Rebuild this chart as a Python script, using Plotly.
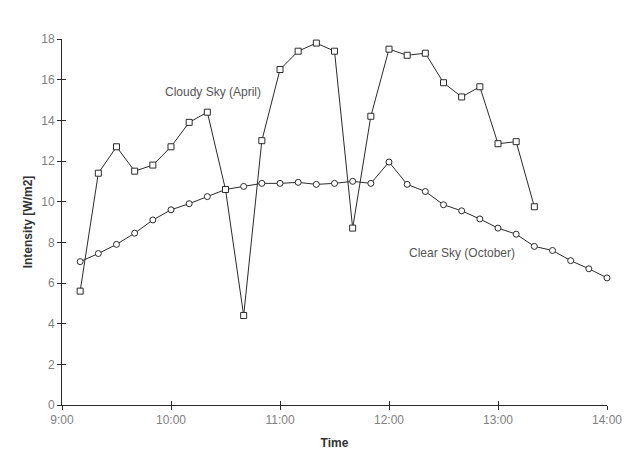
import plotly.graph_objects as go

# ---- data ----
cloudy_times = ["09:10", "09:20", "09:30", "09:40", "09:50", "10:00", "10:10", "10:20",
                "10:30", "10:40", "10:50", "11:00", "11:10", "11:20", "11:30", "11:40",
                "11:50", "12:00", "12:10", "12:20", "12:30", "12:40", "12:50", "13:00",
                "13:10", "13:20"]
cloudy_values = [5.6, 11.4, 12.7, 11.5, 11.8, 12.7, 13.9, 14.4,
                 10.6, 4.4, 13.0, 16.5, 17.4, 17.8, 17.4, 8.7,
                 14.2, 17.5, 17.2, 17.3, 15.85, 15.15, 15.65, 12.85,
                 12.95, 9.75]

clear_times = ["09:10", "09:20", "09:30", "09:40", "09:50", "10:00", "10:10", "10:20",
               "10:30", "10:40", "10:50", "11:00", "11:10", "11:20", "11:30", "11:40",
               "11:50", "12:00", "12:10", "12:20", "12:30", "12:40", "12:50", "13:00",
               "13:10", "13:20", "13:30", "13:40", "13:50", "14:00"]
clear_values = [7.05, 7.45, 7.9, 8.45, 9.1, 9.6, 9.9, 10.25,
                10.6, 10.75, 10.9, 10.9, 10.95, 10.85, 10.9, 11.0,
                10.9, 11.95, 10.85, 10.5, 9.85, 9.55, 9.15, 8.7,
                8.4, 7.8, 7.6, 7.1, 6.7, 6.25]

tick_labels = ["9:00", "10:00", "11:00", "12:00", "13:00", "14:00"]
tick_times = ["09:00", "10:00", "11:00", "12:00", "13:00", "14:00"]
y_ticks = [0, 2, 4, 6, 8, 10, 12, 14, 16, 18]

DAY = "2000-01-01 "
def to_dt(ts):
    return [DAY + t for t in ts]

LINE = "#2a2a2a"
TICKC = "#808080"

fig = go.Figure()
xr = [DAY + tick_times[0], DAY + tick_times[-1]]
# invisible trace on a twin subplot (it carries the inner half of the crossing ticks)
fig.add_trace(go.Scatter(x=xr, y=[y_ticks[0], y_ticks[-1]], xaxis="x2", yaxis="y2",
                         mode="markers", marker=dict(opacity=0), showlegend=False,
                         hoverinfo="skip"))
fig.add_trace(go.Scatter(
    x=to_dt(clear_times), y=clear_values, mode="lines+markers",
    line=dict(color=LINE, width=1),
    marker=dict(symbol="circle", size=6, color="white", line=dict(color=LINE, width=1)),
    showlegend=False, cliponaxis=False))
fig.add_trace(go.Scatter(
    x=to_dt(cloudy_times), y=cloudy_values, mode="lines+markers",
    line=dict(color=LINE, width=1),
    marker=dict(symbol="square", size=6, color="white", line=dict(color=LINE, width=1)),
    showlegend=False, cliponaxis=False))

# page body has an 8px margin, so the figure is 8px smaller than the window
fig.update_layout(
    width=623, height=452,
    margin=dict(l=54, r=24, t=31, b=55),
    paper_bgcolor="white", plot_bgcolor="rgba(0,0,0,0)",
    font=dict(family="Liberation Sans, Arial, sans-serif", size=12, color=TICKC),
    xaxis=dict(type="date", range=xr, tickmode="array", tickvals=to_dt(tick_times),
               ticktext=tick_labels, automargin=False,
               showgrid=False, zeroline=False, showline=True, linecolor=LINE, linewidth=1,
               ticks="outside", ticklen=4, tickcolor=LINE, tickwidth=1,
               tickfont=dict(size=12, color=TICKC),
               title=dict(text="<b>Time</b>", font=dict(size=12, color="#333333"), standoff=12)),
    yaxis=dict(range=[0, 18], tickmode="array", tickvals=y_ticks, automargin=False,
               showgrid=False, zeroline=False,
               showline=True, linecolor=LINE, linewidth=1,
               ticks="outside", ticklen=4, tickcolor=LINE, tickwidth=1,
               tickfont=dict(size=12, color=TICKC),
               title=dict(text="<b>Intensity [W/m2]</b>", font=dict(size=12, color="#333333"),
                          standoff=6)),
    xaxis2=dict(type="date", range=xr, domain=[0, 1], anchor="y2", side="bottom",
                tickmode="array", tickvals=to_dt(tick_times), showticklabels=False,
                showgrid=False, automargin=False,
                zeroline=False, showline=False,
                ticks="inside", ticklen=4, tickcolor=LINE, tickwidth=1),
    yaxis2=dict(range=[0, 18], domain=[0, 1], anchor="x2", side="left",
                tickmode="array", tickvals=y_ticks, showticklabels=False,
                showgrid=False, automargin=False,
                zeroline=False, showline=False,
                ticks="inside", ticklen=4, tickcolor=LINE, tickwidth=1),
    annotations=[
        dict(x=DAY + "10:23", y=15.4, xref="x", yref="y", text="Cloudy Sky (April)",
             showarrow=False, font=dict(size=12, color="#555555")),
        dict(x=DAY + "12:40", y=7.5, xref="x", yref="y", text="Clear Sky (October)",
             showarrow=False, font=dict(size=12, color="#555555")),
    ],
)

fig.write_html("out.html")
